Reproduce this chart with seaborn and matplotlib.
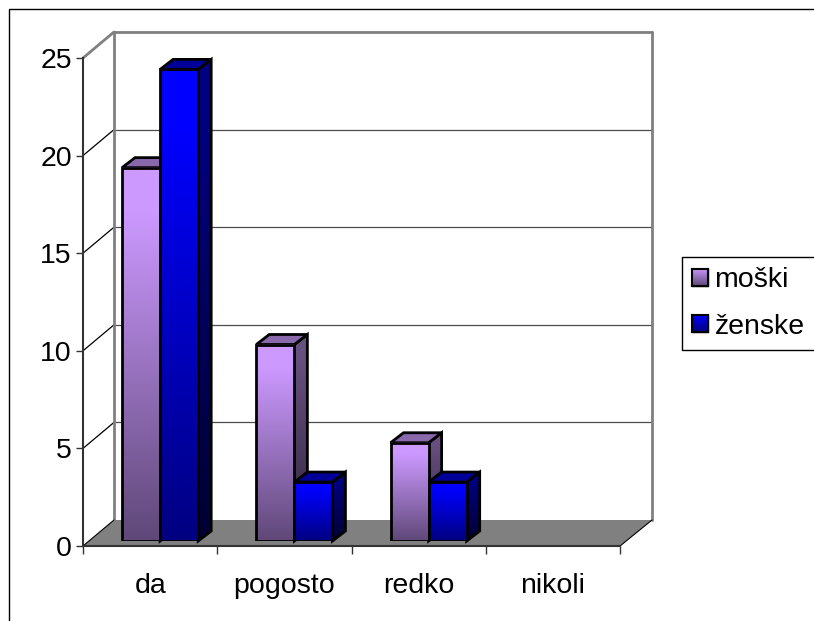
#!/usr/bin/env python3
"""3D-look column chart (moski / zenske), rebuilt on seaborn bars."""
import numpy as np
import pandas as pd
import matplotlib
matplotlib.use("Agg")
import matplotlib.pyplot as plt
import seaborn as sns
from matplotlib.colors import LinearSegmentedColormap
from matplotlib.lines import Line2D
from matplotlib.patches import Polygon, Rectangle
from matplotlib.transforms import IdentityTransform

categories = ["da", "pogosto", "redko", "nikoli"]
moski = [19, 10, 5, 0]
zenske = [24, 3, 3, 0]
series_names = ["moški", "ženske"]
y_ticks = [0, 5, 10, 15, 20, 25]

W, H = 814, 621
DX, DY = 13, 10  # bar depth in pixels

sns.set_style("white")
plt.rcParams["font.family"] = ["Liberation Sans", "DejaVu Sans"]

FRONT = {"moški": ("#CC99FF", "#5F4878"), "ženske": ("#0000FF", "#000080")}
SIDE = {"moški": ("#66507F", "#2F243C"), "ženske": ("#000080", "#000033")}
TOP = {"moški": "#8A68AC", "ženske": "#000099"}

df = pd.DataFrame({
    "cat": categories * 2,
    "value": moski + zenske,
    "who": [series_names[0]] * 4 + [series_names[1]] * 4,
})


def box(x0, y0, x1, y1):
    """pixel box (top-left origin) -> figure fractions"""
    return [x0 / W, 1 - y1 / H, (x1 - x0) / W, (y1 - y0) / H]


def grad_image(ax, x0, x1, y_top, y_bot, colors, clip=None, zorder=2):
    # hold the light colour for the first stretch, then fade
    cmap = LinearSegmentedColormap.from_list("g", [(0, colors[0]), (0.12, colors[0]), (1, colors[1])])
    im = ax.imshow(np.linspace(0, 1, 256).reshape(-1, 1), cmap=cmap, aspect="auto",
                   extent=(x0, x1, H - y_bot, H - y_top), origin="upper",
                   transform=IdentityTransform(), zorder=zorder, clip_on=bool(clip))
    if clip is not None:
        im.set_clip_path(Polygon(clip, closed=True, transform=IdentityTransform()))
    return im


fig = plt.figure(figsize=(W / 100, H / 100), dpi=100, facecolor="white")

# front plane of the chart: carries the axes, ticks and labels
ax = fig.add_axes(box(83, 58, 620, 546))
ax.set_facecolor("none")
ax.set_xlim(-0.5, 3.5)
ax.set_ylim(0, 25)
ax.set_xticks(range(4), categories)
ax.set_xticks(np.arange(-0.5, 4), minor=True)
ax.set_yticks(y_ticks)
ax.tick_params(axis="x", which="major", length=0, labelsize=20.5, pad=19.5, labelcolor="black")
ax.tick_params(axis="x", which="minor", length=6, width=1, color="#333333", bottom=True)
ax.tick_params(axis="y", length=5, width=1, color="#333333", labelsize=20.5, pad=3,
               labelcolor="black", left=True)
ax.set_xlabel("")
ax.set_ylabel("")
for s in ["top", "right"]:
    ax.spines[s].set_visible(False)
for s in ["left", "bottom"]:
    ax.spines[s].set_color("#333333")
    ax.spines[s].set_linewidth(1.5)


def pixel_line(xs, ys, color, lw, zorder=1):
    ax.add_line(Line2D(xs, [H - y for y in ys], color=color, lw=lw,
                       transform=IdentityTransform(), clip_on=False, zorder=zorder))


# floor
ax.add_patch(Polygon([(83, H - 546), (620, H - 546), (652, H - 520), (114, H - 520)],
                     closed=True, facecolor="#808080", edgecolor="none",
                     transform=IdentityTransform(), clip_on=False, zorder=1))
# walls and gridlines follow the value scale
for v in y_ticks[1:]:
    y_front = ax.transData.transform((0, v))[1]
    y_back = y_front + 26
    is_top = v == y_ticks[-1]
    c = "#808080" if is_top else "#4D4D4D"
    lw = 2 if is_top else 0.9
    pixel_line([114, 652], [H - y_back] * 2, c, lw)
    pixel_line([83, 114], [H - y_front, H - y_back], c if is_top else "black", lw)
pixel_line([114, 114], [32, 520], "#808080", 2)
pixel_line([652, 652], [32, 520], "#808080", 2)
pixel_line([83, 114], [546, 520], "black", 0.8, zorder=1.5)
pixel_line([620, 652], [546, 520], "black", 0.8, zorder=1.5)

# bars sit slightly inside the floor, so they get their own axes
ax_bars = fig.add_axes(box(93, 541 - 25 * 19.65, 630, 541))
ax_bars.set_facecolor("none")
sns.barplot(data=df, x="cat", y="value", hue="who", order=categories,
            hue_order=series_names, width=0.567, gap=0, saturation=1,
            palette={n: FRONT[n][0] for n in series_names}, legend=False, ax=ax_bars)
ax_bars.set_ylim(0, 25)
ax_bars.set_xlim(-0.5, 3.5)
ax_bars.axis("off")
fig.canvas.draw()

z = 3
for name, container in zip(series_names, ax_bars.containers):
    for bar in container:
        if bar.get_height() == 0:
            bar.set_visible(False)
            continue
        bb = bar.get_window_extent()
        x0, x1 = bb.x0, bb.x1
        y_top, y_bot = H - bb.y1, H - bb.y0
        # side face
        side = [(x1, H - y_top), (x1 + DX, H - y_top + DY), (x1 + DX, H - y_bot + DY), (x1, H - y_bot)]
        grad_image(ax_bars, x1, x1 + DX, y_top - DY, y_bot, SIDE[name], clip=side, zorder=z)
        ax_bars.add_patch(Polygon(side, closed=True, fill=False, edgecolor="black", lw=2,
                                  transform=IdentityTransform(), clip_on=False, zorder=z + 0.1))
        # top face
        ax_bars.add_patch(Polygon([(x0, H - y_top), (x0 + DX, H - y_top + DY),
                                   (x1 + DX, H - y_top + DY), (x1, H - y_top)],
                                  closed=True, facecolor=TOP[name], edgecolor="black", lw=2,
                                  transform=IdentityTransform(), clip_on=False, zorder=z + 0.1))
        # front face
        grad_image(ax_bars, x0, x1, y_top, y_bot, FRONT[name], zorder=z + 0.2)
        bar.set_facecolor("none")
        bar.set_edgecolor("black")
        bar.set_linewidth(2)
        bar.set_zorder(z + 0.3)
        z += 1
ax_bars.set_ylim(0, 25)
ax_bars.set_xlim(-0.5, 3.5)

# outer chart frame, open to the right and bottom edges of the picture
fig.add_artist(Rectangle((8.5 / W, -0.2), 900 / W, 1.2 - 9 / H, transform=fig.transFigure,
                         fill=False, edgecolor="black", lw=1, zorder=-1))

handles = [Rectangle((0, 0), 1, 1, facecolor=FRONT[n][0], edgecolor="black") for n in series_names]
leg = fig.legend(handles, series_names, loc="upper left", bbox_to_anchor=(682 / W, 1 - 257 / H),
                 borderaxespad=0, frameon=True, fancybox=False, edgecolor="black", framealpha=1,
                 fontsize=20.5, handlelength=0.56, handleheight=0.56, handletextpad=0.22,
                 labelspacing=0.72, borderpad=0.36, labelcolor="black")
leg.get_frame().set_linewidth(1)
fig.canvas.draw()
for patch, name in zip(leg.get_patches(), series_names):
    bb = patch.get_window_extent()
    sw = fig.add_axes([bb.x0 / W, bb.y0 / H, bb.width / W, bb.height / H], zorder=20)
    sw.imshow(np.linspace(0, 1, 64).reshape(-1, 1), aspect="auto",
              cmap=LinearSegmentedColormap.from_list("s", FRONT[name]))
    sw.set_xticks([])
    sw.set_yticks([])
    for sp in sw.spines.values():
        sp.set_color("black")
        sp.set_linewidth(1.5)

fig.savefig("out.png", dpi=100)
